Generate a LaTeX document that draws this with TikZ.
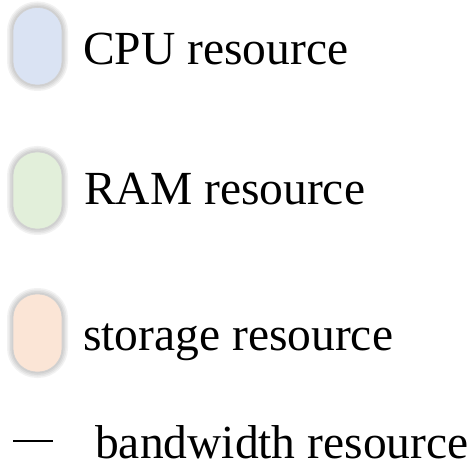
\documentclass[tikz,border=0pt]{standalone}
\usepackage{fontspec}
\setmainfont{Liberation Serif}
\definecolor{cpufill}{HTML}{DAE3F3}
\definecolor{ramfill}{HTML}{E2EFDA}
\definecolor{stofill}{HTML}{FBE5D6}
\tikzset{
  pill/.style={rounded corners=24pt, draw=black!18, line width=0.6pt},
  glow/.style={rounded corners=24pt, draw=black, line width=#1, draw opacity=0.05},
  label/.style={anchor=base west, inner sep=0pt, font=\fontsize{47.5}{50}\selectfont},
}
% a rounded pill with a soft grey halo
\newcommand{\legendpill}[3]{%
  \foreach \w in {12,9,6,3}{\draw[glow=\w pt] (13,#1) rectangle (62,#2);}
  \draw[pill, fill=#3] (13,#1) rectangle (62,#2);
}
\begin{document}
\begin{tikzpicture}[x=1pt, y=-1pt]
  \useasboundingbox (0,0) rectangle (476,470);
  \legendpill{7.5}{85}{cpufill}
  \legendpill{152}{229}{ramfill}
  \legendpill{294}{372}{stofill}
  \node[label] (cpu) at (83,65) {CPU resource};
  \node[label] (ram) at (84,205) {RAM resource};
  \node[label] (sto) at (83,350) {storage resource};
  \coordinate (bwa) at (13,441);
  \coordinate (bwb) at (53,441);
  \draw[line width=1.6pt] (bwa) -- (bwb);
  \node[label] (bw) at (95,458) {bandwidth resource};
\end{tikzpicture}
\end{document}
